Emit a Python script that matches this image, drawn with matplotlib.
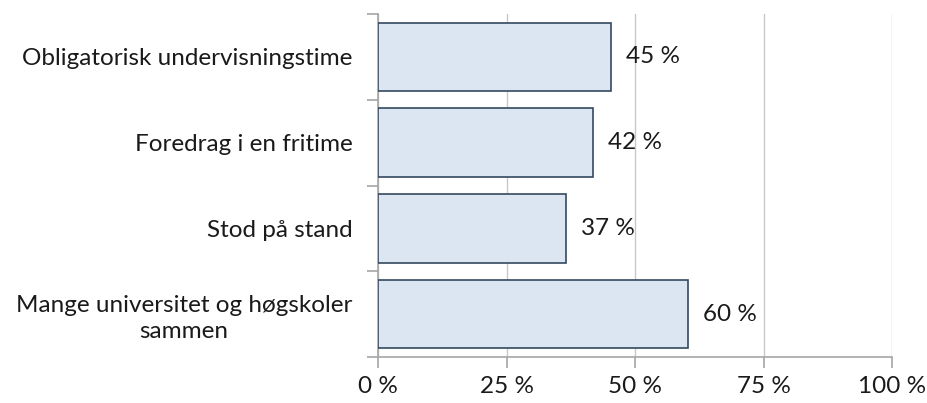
import numpy as np
import matplotlib.pyplot as plt

# data
categories = ["Obligatorisk undervisningstime", "Foredrag i en fritime",
              "Stod på stand", "Mange universitet og høgskoler\nsammen"]
values = [45.3, 41.9, 36.6, 60.4]
value_labels = ["45 %", "42 %", "37 %", "60 %"]
xticks = [0, 25, 50, 75, 100]
xtick_labels = ["0 %", "25 %", "50 %", "75 %", "100 %"]

plt.rcParams['font.family'] = ['Lato', 'DejaVu Sans']
fs = 17.5

fig = plt.figure(figsize=(9.27, 4.03), dpi=100)
ax = fig.add_axes([378/927, 1-357/403, (892-378)/927, (357-14)/403])

y = np.arange(len(categories))
ax.barh(y, values, height=0.8, color='#dce6f2', edgecolor='#34495e', linewidth=1.2, zorder=3)

for yi, v, lab in zip(y, values, value_labels):
    ax.text(v + 2.9, yi, lab, va='center', ha='left', fontsize=fs, color='#1a1a1a', zorder=4)

ax.set_xlim(0, 100)
ax.set_ylim(len(categories) - 0.5, -0.5)

ax.set_xticks(xticks)
ax.set_xticklabels(xtick_labels, fontsize=fs, color='#1a1a1a')
ax.set_yticks(y)
ax.set_yticklabels(categories, fontsize=fs, color='#1a1a1a', multialignment='center',
                   linespacing=1.3)
ax.set_yticks(np.arange(-0.5, len(categories)), minor=True)
ax.tick_params(axis='y', which='major', length=0, pad=18.5)
ax.tick_params(axis='y', which='minor', length=8, width=1.2, color='#a6a6a6', direction='out')
ax.tick_params(axis='x', length=8, width=1.2, color='#a6a6a6', direction='out', pad=6)

ax.xaxis.grid(True, color='#c8c8c8', linewidth=1.0, zorder=0)
ax.set_axisbelow(True)
for s in ['top', 'right']:
    ax.spines[s].set_visible(False)
for s in ['left', 'bottom']:
    ax.spines[s].set_color('#a6a6a6')
    ax.spines[s].set_linewidth(1.2)

plt.savefig("out.png", dpi=100)
